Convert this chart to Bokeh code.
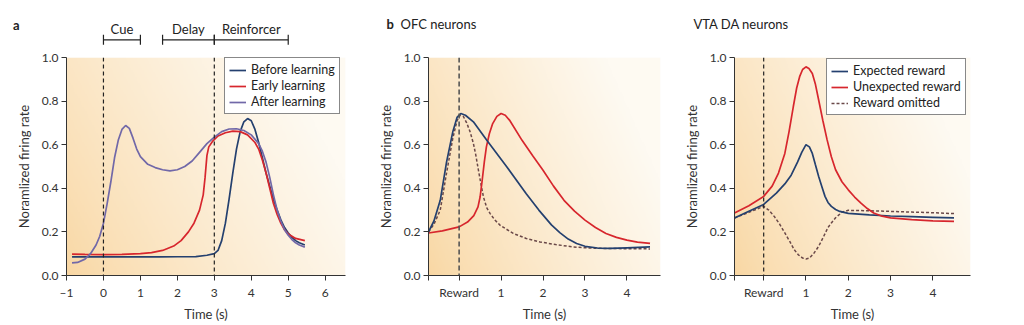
import numpy as np
from bokeh.plotting import figure
from bokeh.layouts import row, column
from bokeh.core.properties import value
from bokeh.models import (Range1d, Span, Legend, LegendItem, LinearAxis, FixedTicker, Label,
                          LabelSet, Whisker, TeeHead, ColumnDataSource, PrintfTickFormatter)
from bokeh.embed import file_html
from bokeh.resources import INLINE

# ---------------- data ----------------
# Panel a
a_before_x = [-0.85, -0.5, 0, 0.5, 1, 1.5, 2, 2.5, 2.8, 3.0, 3.1, 3.2, 3.3, 3.4, 3.5, 3.6, 3.7, 3.8, 3.9,
              4.0, 4.1, 4.2, 4.3, 4.4, 4.5, 4.6, 4.7, 4.8, 4.9, 5.0, 5.1, 5.2, 5.3, 5.45]
a_before_y = [0.085, 0.085, 0.085, 0.085, 0.085, 0.085, 0.086, 0.087, 0.093, 0.10, 0.115, 0.16, 0.24, 0.35,
              0.47, 0.58, 0.66, 0.705, 0.72, 0.71, 0.67, 0.61, 0.54, 0.47, 0.41, 0.35, 0.30, 0.255, 0.22,
              0.195, 0.175, 0.16, 0.15, 0.14]
a_early_x = [-0.85, -0.5, 0, 0.5, 1.0, 1.3, 1.6, 1.9, 2.1, 2.3, 2.45, 2.6, 2.7, 2.75, 2.8, 2.85, 2.95, 3.1,
             3.3, 3.5, 3.7, 3.9, 4.1, 4.2, 4.3, 4.4, 4.5, 4.6, 4.7, 4.8, 4.9, 5.0, 5.2, 5.45]
a_early_y = [0.098, 0.097, 0.096, 0.097, 0.10, 0.105, 0.115, 0.135, 0.16, 0.20, 0.24, 0.30, 0.37, 0.45,
             0.55, 0.59, 0.615, 0.64, 0.655, 0.662, 0.66, 0.645, 0.61, 0.58, 0.53, 0.47, 0.40, 0.33, 0.28,
             0.24, 0.21, 0.19, 0.17, 0.16]
a_after_x = [-0.85, -0.7, -0.5, -0.35, -0.2, -0.1, 0, 0.1, 0.2, 0.3, 0.4, 0.5, 0.6, 0.7, 0.8, 0.9, 1.0,
             1.2, 1.4, 1.6, 1.8, 2.0, 2.2, 2.4, 2.6, 2.8, 3.0, 3.2, 3.4, 3.6, 3.8, 4.0, 4.2, 4.3, 4.4,
             4.5, 4.6, 4.7, 4.8, 4.9, 5.0, 5.1, 5.2, 5.3, 5.45]
a_after_y = [0.058, 0.06, 0.075, 0.10, 0.14, 0.18, 0.24, 0.33, 0.43, 0.54, 0.62, 0.67, 0.688, 0.675,
             0.63, 0.58, 0.545, 0.51, 0.495, 0.485, 0.48, 0.485, 0.50, 0.525, 0.565, 0.605, 0.635, 0.66,
             0.672, 0.673, 0.665, 0.645, 0.605, 0.57, 0.52, 0.45, 0.37, 0.30, 0.25, 0.21, 0.185, 0.165,
             0.15, 0.14, 0.13]
a_series = ["Before learning", "Early learning", "After learning"]
a_events = [0, 3]
a_phase_names = ["Cue", "Delay", "Reinforcer"]
a_phase_start = [0, 1.6, 3]
a_phase_end = [1, 3, 5]
a_xticks = [-1, 0, 1, 2, 3, 4, 5, 6]

# Panel b (OFC neurons)
b_blue_x = [-0.73, -0.6, -0.45, -0.3, -0.15, -0.05, 0.04, 0.15, 0.34, 0.66, 1.13, 1.6, 1.9, 2.2, 2.4,
            2.6, 2.8, 3.0, 3.3, 3.6, 4.0, 4.55]
b_blue_y = [0.20, 0.25, 0.345, 0.52, 0.66, 0.725, 0.743, 0.735, 0.705, 0.62, 0.50, 0.375, 0.30, 0.232,
            0.197, 0.167, 0.147, 0.134, 0.126, 0.124, 0.127, 0.131]
b_red_x = [-0.73, -0.4, 0, 0.2, 0.35, 0.45, 0.5, 0.55, 0.6, 0.65, 0.72, 0.8, 0.9, 1.0, 1.1, 1.2, 1.5, 1.75,
           2.0, 2.25, 2.5, 2.75, 3.0, 3.25, 3.5, 3.75, 4.0, 4.25, 4.55]
b_red_y = [0.195, 0.205, 0.223, 0.245, 0.275, 0.315, 0.36, 0.437, 0.52, 0.59, 0.65, 0.697, 0.73, 0.743,
           0.735, 0.713, 0.62, 0.55, 0.483, 0.41, 0.345, 0.295, 0.254, 0.22, 0.193, 0.175, 0.162, 0.153,
           0.147]
b_dash_x = [-0.73, -0.6, -0.45, -0.3, -0.15, -0.05, 0.02, 0.1, 0.18, 0.26, 0.34, 0.4, 0.46, 0.52, 0.58,
            0.66, 0.74, 0.85, 0.98, 1.29, 1.6, 1.93, 2.3, 2.72, 3.1, 3.5, 4.0, 4.55]
b_dash_y = [0.20, 0.235, 0.30, 0.47, 0.63, 0.71, 0.735, 0.73, 0.70, 0.66, 0.606, 0.55, 0.483, 0.42, 0.36,
            0.31, 0.284, 0.255, 0.23, 0.193, 0.17, 0.154, 0.142, 0.131, 0.126, 0.124, 0.123, 0.122]

# Panel c (VTA DA neurons)
c_blue_x = [-0.69, -0.35, 0, 0.3, 0.5, 0.65, 0.8, 0.9, 1.0, 1.08, 1.15, 1.22, 1.3, 1.38, 1.45, 1.52, 1.6,
            1.7, 1.8, 2.0, 2.5, 3.0, 3.5, 4.0, 4.5]
c_blue_y = [0.264, 0.295, 0.326, 0.378, 0.42, 0.46, 0.52, 0.565, 0.60, 0.59, 0.56, 0.51, 0.454, 0.405,
            0.363, 0.335, 0.317, 0.303, 0.294, 0.285, 0.278, 0.273, 0.27, 0.267, 0.264]
c_red_x = [-0.69, -0.35, 0, 0.2, 0.35, 0.5, 0.6, 0.7, 0.78, 0.85, 0.92, 1.0, 1.07, 1.15, 1.22, 1.3, 1.4,
           1.5, 1.6, 1.7, 1.85, 2.0, 2.15, 2.3, 2.45, 2.6, 2.8, 3.0, 3.5, 4.0, 4.5]
c_red_y = [0.287, 0.32, 0.363, 0.41, 0.47, 0.56, 0.66, 0.774, 0.86, 0.912, 0.945, 0.957, 0.95, 0.927,
           0.88, 0.805, 0.71, 0.622, 0.545, 0.485, 0.43, 0.393, 0.36, 0.332, 0.307, 0.287, 0.272, 0.264,
           0.256, 0.251, 0.248]
c_dash_x = [-0.69, -0.35, 0, 0.12, 0.25, 0.38, 0.5, 0.62, 0.72, 0.82, 0.92, 1.0, 1.08, 1.18, 1.3, 1.42,
            1.52, 1.6, 1.7, 1.85, 2.0, 2.5, 3.0, 3.5, 4.0, 4.5]
c_dash_y = [0.264, 0.29, 0.317, 0.30, 0.271, 0.235, 0.195, 0.155, 0.119, 0.095, 0.08, 0.076, 0.08, 0.10,
            0.134, 0.18, 0.22, 0.241, 0.265, 0.29, 0.299, 0.297, 0.294, 0.291, 0.288, 0.284]
c_series = ["Expected reward", "Unexpected reward", "Reward omitted"]

rew_xticks = [0, 1, 2, 3, 4]
y_ticks = [0, 0.2, 0.4, 0.6, 0.8, 1.0]

# ---------------- layout / style ----------------
FONT = "Lato"
BLUE = "#24406f"
RED = "#d7262d"
PURPLE = "#7168a8"
BROWN = "#6a4848"
AXC = "#333333"
TXT = "#222222"

HEAD_H = 49          # header strip height
PLOT_H = 325 - HEAD_H
A_W, A_L, A_R = 350, 66, 5
B_W, B_L, B_R = 330, 78, 20
C_W, C_L, C_R = 344, 53, 54
A_XR = (-1, 6.55)
B_XR = (-0.73, 4.8)
C_XR = (-0.69, 4.89)


def gradient_image(w=200, h=100):
    xs = np.linspace(0, 1, w)
    ys = np.linspace(0, 1, h)
    X, Y = np.meshgrid(xs, ys)
    t = np.clip(0.85 * X + 0.35 * Y, 0, 1) ** 0.8
    c0 = np.array([249, 215, 163], dtype=float)
    c1 = np.array([254, 250, 242], dtype=float)
    img = np.empty((h, w), dtype=np.uint32)
    view = img.view(dtype=np.uint8).reshape((h, w, 4))
    for k in range(3):
        view[:, :, k] = (c0[k] + (c1[k] - c0[k]) * t).astype(np.uint8)
    view[:, :, 3] = 255
    return img


def make_fig(width, xr, bl, br):
    p = figure(width=width, height=PLOT_H, x_range=Range1d(*xr), y_range=Range1d(0, 1),
               output_backend="svg", toolbar_location=None,
               min_border_left=bl, min_border_right=br, min_border_top=57 - HEAD_H,
               min_border_bottom=50)
    p.outline_line_color = None
    p.xgrid.visible = False
    p.ygrid.visible = False
    p.background_fill_color = "white"
    p.border_fill_color = "white"
    p.image_rgba(image=[gradient_image()], x=xr[0], y=0, dw=xr[1] - xr[0], dh=1, level="image")
    for ax in (p.xaxis[0], p.yaxis[0]):
        ax.axis_line_color = AXC
        ax.major_tick_line_color = AXC
        ax.minor_tick_line_color = None
        ax.major_tick_in = 0
        ax.major_tick_out = 5
        ax.major_label_text_font = FONT
        ax.major_label_text_font_size = "12px"
        ax.major_label_text_color = AXC
        ax.axis_label_text_font = FONT
        ax.axis_label_text_font_size = "13px"
        ax.axis_label_text_font_style = "normal"
        ax.axis_label_text_color = AXC
    p.yaxis.ticker = y_ticks
    p.yaxis.formatter = PrintfTickFormatter(format="%.1f")
    p.yaxis.major_label_standoff = 3
    p.yaxis.axis_label_standoff = 7
    p.yaxis.axis_label = "Noramlized firing rate"
    p.xaxis.major_label_standoff = 4
    p.xaxis.axis_label_standoff = 3
    p.xaxis.axis_label = "Time (s)"
    return p


def styled_legend(items, loc):
    return Legend(items=items, location=loc, label_text_font=FONT, label_text_font_size="12.5px",
                  label_text_color=TXT, glyph_width=17, glyph_height=14, label_height=14,
                  padding=4, spacing=1, label_standoff=5, margin=0, border_line_color="#111",
                  border_line_width=1, background_fill_color="white", background_fill_alpha=1)


# ---------------- panel a ----------------
pa = make_fig(A_W, A_XR, A_L, A_R)
pa.xaxis.ticker = a_xticks
pa.xaxis.major_label_overrides = {-1: "\u20131"}
for ev in a_events:
    pa.add_layout(Span(location=ev, dimension="height", line_color=TXT, line_dash="4 3",
                       line_width=1.2))
r1 = pa.line(a_before_x, a_before_y, line_color=BLUE, line_width=1.7)
r2 = pa.line(a_early_x, a_early_y, line_color=RED, line_width=1.7)
r3 = pa.line(a_after_x, a_after_y, line_color=PURPLE, line_width=1.7)
pa.add_layout(styled_legend([LegendItem(label=a_series[0], renderers=[r1]),
                             LegendItem(label=a_series[1], renderers=[r2]),
                             LegendItem(label=a_series[2], renderers=[r3])], (158, 161)))

# ---------------- panel b ----------------
pb = make_fig(B_W, B_XR, B_L, B_R)
pb.xaxis.ticker = [B_XR[0]] + rew_xticks
pb.xaxis.major_label_overrides = {B_XR[0]: "", 0: "Reward"}
pb.add_layout(Span(location=0, dimension="height", line_color="#555", line_dash="5 3", line_width=1.6))
pb.line(b_dash_x, b_dash_y, line_color=BROWN, line_width=1.5, line_dash="3 2")
pb.line(b_red_x, b_red_y, line_color=RED, line_width=1.7)
pb.line(b_blue_x, b_blue_y, line_color=BLUE, line_width=1.7)

# ---------------- panel c ----------------
pc = make_fig(C_W, C_XR, C_L, C_R)
pc.xaxis.ticker = [C_XR[0]] + rew_xticks
pc.xaxis.major_label_overrides = {C_XR[0]: "", 0: "Reward"}
pc.add_layout(Span(location=0, dimension="height", line_color=TXT, line_dash="4 3", line_width=1.2))
s3 = pc.line(c_dash_x, c_dash_y, line_color=BROWN, line_width=1.5, line_dash="3 2")
s1 = pc.line(c_blue_x, c_blue_y, line_color=BLUE, line_width=1.7)
s2 = pc.line(c_red_x, c_red_y, line_color=RED, line_width=1.7)
pc.add_layout(styled_legend([LegendItem(label=c_series[0], renderers=[s1]),
                             LegendItem(label=c_series[1], renderers=[s2]),
                             LegendItem(label=c_series[2], renderers=[s3])], (92, 160)))

# ---------------- header strip (panel letters, titles, task-phase brackets) ----------------
TOTAL_W = A_W + B_W + C_W
H_L, H_R = A_L, C_R
# header x in pixels; an extra range reproduces panel a's time scale for the brackets
a_px_per_unit = (A_W - A_L - A_R) / (A_XR[1] - A_XR[0])
head_frame_w = TOTAL_W - H_L - H_R
hd = figure(width=TOTAL_W, height=HEAD_H, x_range=Range1d(H_L, TOTAL_W - H_R),
            y_range=Range1d(HEAD_H, 0), x_axis_type=None, y_axis_type=None,
            output_backend="svg", toolbar_location=None,
            min_border_left=H_L, min_border_right=H_R, min_border_top=0, min_border_bottom=0)
hd.extra_x_ranges = {"a": Range1d(A_XR[0], A_XR[0] + head_frame_w / a_px_per_unit)}
hd.outline_line_color = None
hd.background_fill_color = "white"
hd.border_fill_color = "white"

phase_src = ColumnDataSource(dict(
    lower=a_phase_start, upper=a_phase_end, base=[39.3] * len(a_phase_start),
    mid=[(s + e) / 2 for s, e in zip(a_phase_start, a_phase_end)],
    ty=[28] * len(a_phase_start), name=a_phase_names))
hd.add_layout(Whisker(source=phase_src, base="base", lower="lower", upper="upper", dimension="width",
                      x_range_name="a", line_color=TXT, line_width=1.2,
                      lower_head=TeeHead(size=10, line_color=TXT, line_width=1.2),
                      upper_head=TeeHead(size=10, line_color=TXT, line_width=1.2)))
hd.add_layout(LabelSet(source=phase_src, x="mid", y="ty", text="name", x_range_name="a",
                       text_font=value(FONT), text_font_size=value("13px"), text_color=TXT,
                       text_align="center", text_baseline="middle"))


def head_label(x, y, txt, bold=False):
    hd.add_layout(Label(x=x, y=y, text=txt, text_font=FONT, text_font_size="13px",
                        text_font_style="bold" if bold else "normal", text_color=TXT,
                        text_align="left", text_baseline="middle"))


head_label(386, 23, "b", bold=True)
head_label(400, 23, "OFC neurons")
head_label(693, 23, "VTA DA neurons")

# panel letter "a" sits left of the header frame: draw it as a horizontal axis label
lab_axis = LinearAxis(ticker=FixedTicker(ticks=[]), bounds=(19, 21), axis_line_color=None,
                      major_tick_line_color=None, minor_tick_line_color=None,
                      axis_label="a", axis_label_orientation="horizontal", axis_label_standoff=47,
                      axis_label_text_font=FONT, axis_label_text_font_size="13px",
                      axis_label_text_font_style="bold", axis_label_text_color=TXT)
hd.add_layout(lab_axis, "left")

layout = column(hd, row(pa, pb, pc))
open("out.html", "w").write(file_html(layout, INLINE))
